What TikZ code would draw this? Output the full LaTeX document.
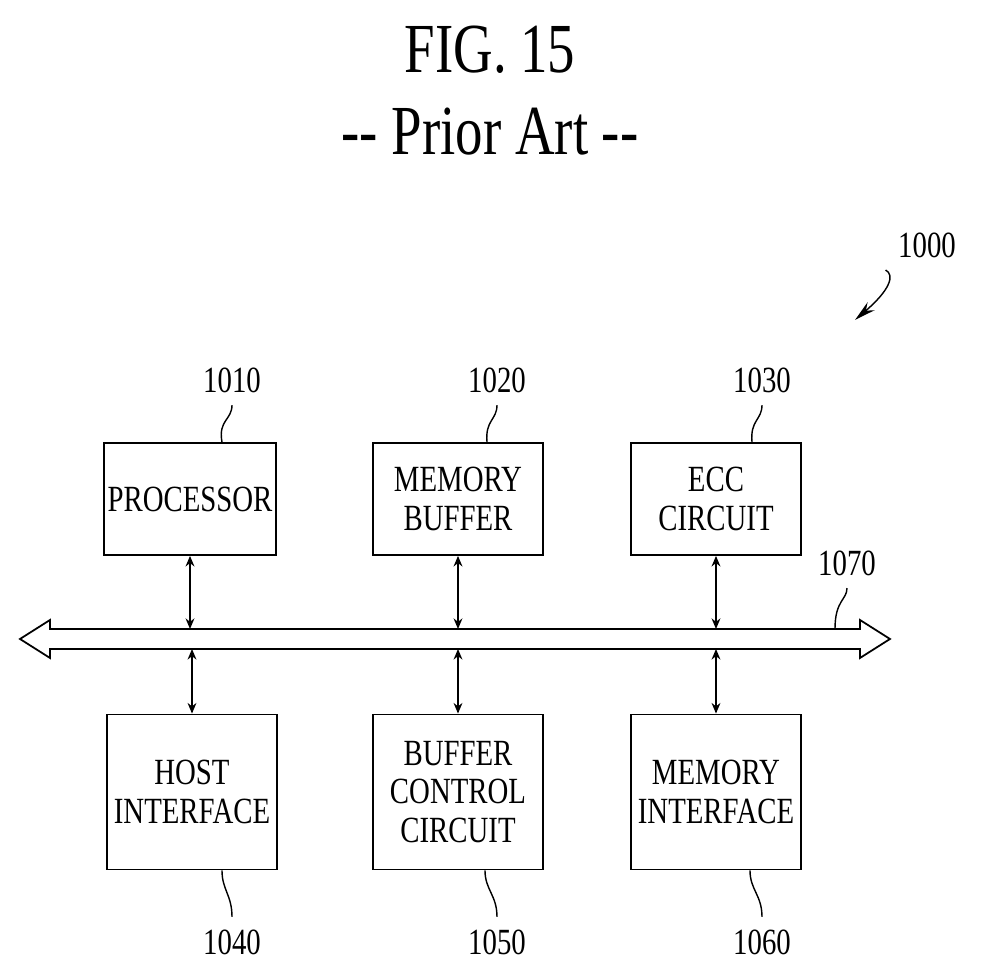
\documentclass[tikz,border=0pt]{standalone}
\usepackage{fontspec}
\setmainfont{Liberation Serif}[FakeStretch=0.78]
\usetikzlibrary{positioning,arrows.meta}
\tikzset{
	blockpic/.style = {
		x = 0.01cm, y = -0.01cm,
		line width = 0.5pt,
		link/.style = {
			draw,
			{Stealth[length=3pt,width=2.5pt]}-{Stealth[length=3pt,width=2.5pt]},
		}
	},
	block/.style = {
		draw = black,
		minimum width = 1.7cm,
		minimum height = 1.12cm,
		align = center,
		inner sep = 1pt,
		font = \fontsize{10.5}{11}\selectfont
	},
	tallblock/.style = {
		block,
		minimum height = 1.55cm
	},
	reflabel/.style = {
		font = \fontsize{10.5}{12}\selectfont
	}
}
\begin{document}
\begin{tikzpicture}[blockpic]
	\useasboundingbox (0,0) rectangle (981,977);

	\node[font = \fontsize{20}{22}\selectfont] (title) at (490,50) {FIG. 15};
	\node[font = \fontsize{20}{22}\selectfont] (sub) at (490,132) {-{}- Prior Art -{}-};

	\node[block] (P) at (190,499) {PROCESSOR};
	\node[block] (MB) at (458,499) {MEMORY\\BUFFER};
	\node[block] (E) at (716,499) {ECC\\CIRCUIT};

	\node[tallblock] (H) at (192,792) {HOST\\INTERFACE};
	\node[tallblock] (B) at (458,792) {BUFFER\\CONTROL\\CIRCUIT};
	\node[tallblock] (MI) at (716,792) {MEMORY\\INTERFACE};

	% bus
	\draw (20,639) -- (50,620) -- (50,629) -- (860,629) -- (860,620) -- (890,639)
		-- (860,658) -- (860,649) -- (50,649) -- (50,658) -- cycle;
	\coordinate (bt) at (0,629);
	\coordinate (bb) at (0,649);

	\begin{scope}[every path/.style = link]
		\path (P.south) -- (P.south |- bt);
		\path (MB.south) -- (MB.south |- bt);
		\path (E.south) -- (E.south |- bt);
		\path (H.north) -- (H.north |- bb);
		\path (B.north) -- (B.north |- bb);
		\path (MI.north) -- (MI.north |- bb);
	\end{scope}

	% reference numerals
	\node[reflabel] (n1010) at (232,380) {1010};
	\node[reflabel] (n1020) at (497,380) {1020};
	\node[reflabel] (n1030) at (762,380) {1030};
	\node[reflabel] (n1040) at (232,942) {1040};
	\node[reflabel] (n1050) at (497,942) {1050};
	\node[reflabel] (n1060) at (762,942) {1060};
	\node[reflabel] (n1070) at (847,563) {1070};
	\node[reflabel] (n1000) at (927,245) {1000};

	\draw[line width = 0.4pt] (n1010.south) .. controls (232,420) and (218,420) .. (P.north -| 222,0);
	\draw[line width = 0.4pt] (n1020.south) .. controls (497,420) and (485,420) .. (MB.north -| 487,0);
	\draw[line width = 0.4pt] (n1030.south) .. controls (762,420) and (750,420) .. (E.north -| 752,0);
	\draw[line width = 0.4pt] (H.south -| 222,0) .. controls (222,890) and (232,895) .. (n1040.north);
	\draw[line width = 0.4pt] (B.south -| 485,0) .. controls (485,890) and (497,895) .. (n1050.north);
	\draw[line width = 0.4pt] (MI.south -| 750,0) .. controls (750,890) and (762,895) .. (n1060.north);
	\draw[line width = 0.4pt] (n1070.south) .. controls (847,600) and (835,600) .. (835,629);
	\draw[line width = 0.4pt, -{Stealth[length=6pt,width=3pt]}] (n1000.south west) .. controls (895,275) and (890,290) .. (855,320);
\end{tikzpicture}
\end{document}
